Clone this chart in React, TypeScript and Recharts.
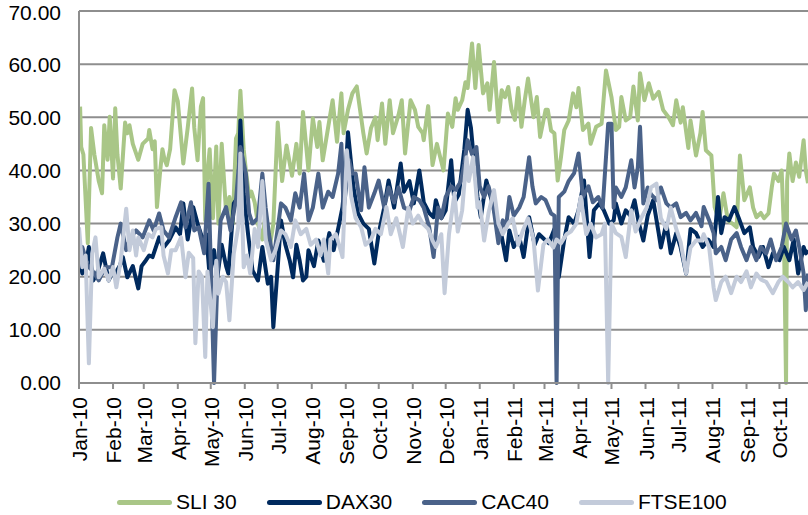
import { LineChart, Line, XAxis, YAxis, CartesianGrid } from 'recharts';

// [day since 1 Jan 2010, value]
const sli30: [number, number][] = [
  [1, 52], [2, 44.4], [4, 43], [8, 26.3], [11, 48], [14, 43], [18, 38], [21, 35.7], [23, 48.5], [26, 42],
  [28, 50.1], [31, 38.5], [33, 51.7], [35, 43], [38, 36.6], [42, 49], [44, 47], [46, 48.5], [49, 45], [54, 42],
  [58, 45], [63, 46], [64, 47.6], [67, 44], [69, 45.5], [71, 33.1], [74, 40], [76, 44], [78, 42], [80, 41],
  [83, 44], [87, 55.1], [90, 53], [95, 41.3], [99, 48], [103, 55.4], [105, 48], [108, 41.9], [111, 52], [113, 53.6],
  [115, 30.6], [116, 37], [119, 44], [122, 31], [125, 44.5], [127, 30], [130, 45], [134, 32], [137, 35], [140, 30],
  [143, 46], [145, 47], [147, 55], [150, 44], [152, 40], [155, 35], [157, 36], [160, 34], [163, 30], [167, 27],
  [170, 32], [174, 26], [177, 30], [181, 49], [185, 38], [189, 44.7], [194, 39], [198, 45], [201, 39.4], [204, 51],
  [209, 40], [213, 49.8], [217, 44.4], [219, 49.1], [222, 41.9], [227, 48.2], [231, 53.2], [235, 45.4], [239, 54.5], [241, 47],
  [245, 51.4], [249, 54.5], [253, 55.8], [256, 51.4], [259, 47], [262, 43.2], [266, 48], [270, 50], [272, 45.7], [276, 52.6],
  [279, 45], [283, 53.2], [286, 47], [291, 50.4], [294, 53.2], [297, 43.2], [302, 53.2], [306, 51.4], [309, 48.2], [313, 47],
  [314, 45.7], [318, 52.1], [322, 41], [326, 45], [329, 42.5], [332, 40], [336, 50.7], [340, 48.2], [343, 53.6], [345, 51.4],
  [349, 53.2], [352, 56.6], [354, 55.5], [358, 63.9], [361, 55.5], [364, 63.6], [368, 54.5], [372, 56.4], [374, 51.4], [378, 60.4],
  [382, 49.1], [385, 55.1], [388, 53.8], [391, 55.7], [394, 51.4], [397, 49.5], [400, 55.5], [403, 48.2], [406, 53.2], [409, 57.3],
  [414, 50], [417, 53.8], [420, 46.3], [425, 51.4], [427, 51.4], [430, 47.5], [433, 47], [436, 38.1], [439, 42.5], [442, 47.6],
  [446, 49.4], [450, 54.5], [453, 51.9], [455, 55.5], [459, 47.6], [464, 48.8], [466, 45], [471, 48.2], [476, 48.8], [480, 58.8],
  [485, 53.8], [489, 47.6], [492, 48.2], [494, 53.8], [498, 49.4], [502, 50], [505, 55.8], [509, 49.4], [511, 58.3], [515, 53.2],
  [519, 56.4], [523, 53.5], [528, 54.8], [532, 51.4], [537, 50], [541, 48.5], [544, 53.2], [548, 49], [550, 51.9], [555, 44.2],
  [557, 49.4], [562, 42.8], [566, 47], [568, 51], [571, 43.8], [576, 42.8], [579, 33.1], [583, 30.6], [587, 35.7], [591, 30.6],
  [595, 30], [599, 29.3], [602, 42.8], [606, 34.4], [611, 36.8], [614, 33], [617, 31.2], [621, 32], [624, 31], [628, 31.9],
  [631, 36.8], [633, 39.4], [637, 38], [640, 40], [642, 29.3], [644, 0], [645, 38], [647, 43.2], [650, 38], [653, 41.5],
  [656, 38.8], [660, 45.7], [662, 40], [664, 37.6],
];

const dax30: [number, number][] = [
  [1, 23], [3, 20.6], [6, 22], [9, 25.6], [13, 19.3], [17, 21], [22, 24.4], [27, 19.3], [31, 21], [33, 20.6],
  [37, 22], [40, 23.7], [44, 19.9], [49, 22], [54, 17.8], [57, 22], [61, 23.1], [64, 24], [67, 23.7], [73, 27.4],
  [77, 25.5], [82, 26.8], [88, 29.3], [92, 28], [95, 33.8], [99, 27], [104, 33.1], [108, 30], [113, 26.8], [116, 28],
  [119, 20], [123, 25], [126, 20], [130, 26], [134, 22], [136, 20.6], [141, 33.8], [145, 35], [147, 49.4], [150, 35.7],
  [154, 28], [158, 21.2], [163, 19.3], [167, 25.6], [172, 18.7], [175, 20], [177, 10.5], [181, 21.8], [184, 30.6], [188, 26],
  [192, 23], [195, 19.9], [198, 26], [201, 23], [204, 19.3], [207, 20], [209, 25], [214, 22], [218, 26.8], [223, 23],
  [228, 28.2], [232, 25], [237, 30], [240, 33.1], [243, 40], [245, 47.2], [250, 36.8], [254, 32], [259, 30], [264, 29],
  [269, 22.5], [273, 28.2], [278, 33], [282, 38.1], [287, 33], [293, 41.3], [296, 36], [301, 38], [305, 33.8], [310, 40],
  [314, 34], [319, 32], [323, 31.2], [325, 34.4], [330, 31], [334, 32.5], [339, 41.9], [342, 34], [346, 35.5], [351, 44],
  [354, 51.4], [357, 48], [360, 41.3], [363, 35], [366, 31.2], [371, 38.1], [375, 35], [380, 31], [384, 28.7], [389, 23.1],
  [392, 28.7], [396, 25.6], [401, 27.5], [405, 23.7], [410, 31.2], [415, 26], [419, 28], [424, 27], [428, 26.3], [433, 29],
  [437, 19.9], [442, 27], [446, 31.2], [451, 30], [455, 32.5], [460, 38.1], [465, 23.7], [469, 32.5], [474, 33.8], [478, 32.5],
  [483, 30], [487, 30.6], [489, 33.8], [494, 30], [498, 32.5], [502, 31.5], [506, 34.4], [510, 30], [514, 26.8], [518, 31.5],
  [523, 34.4], [528, 28.2], [530, 25.5], [535, 30], [539, 24.4], [544, 28.2], [548, 25.5], [553, 20.6], [557, 29], [562, 28.2],
  [568, 25.6], [573, 27], [578, 25.6], [580, 30], [582, 35], [585, 28.2], [588, 31.2], [592, 30.6], [597, 33.1], [601, 31],
  [606, 28.2], [611, 29.3], [614, 25.6], [619, 23.7], [623, 25.6], [628, 21.8], [632, 24.4], [638, 23.1], [642, 25.6], [647, 23.1],
  [651, 27], [655, 20.6], [660, 25.6], [662, 24.4], [664, 25],
];

const cac40: [number, number][] = [
  [1, 22], [3, 25.6], [8, 22], [12, 21.2], [18, 19.3], [24, 21.8], [30, 21.8], [35, 27.4], [38, 30], [43, 25],
  [47, 27.4], [52, 28.7], [58, 27.4], [64, 30.6], [68, 28.7], [73, 31.9], [77, 28.7], [82, 27.4], [88, 31.2], [93, 34],
  [97, 29.3], [102, 34], [105, 28.7], [109, 29.3], [114, 24.4], [118, 37.5], [121, 15], [123, 0], [126, 19.3], [129, 30.6],
  [134, 33.1], [138, 28.7], [143, 34.4], [147, 44.4], [152, 39.4], [155, 31.9], [158, 30], [163, 31], [167, 39.4], [170, 33],
  [173, 28], [177, 23.1], [181, 29], [184, 33.8], [188, 33], [193, 30.6], [197, 35.7], [201, 33], [205, 39.4], [209, 30.6],
  [213, 33], [218, 39.4], [222, 33], [227, 36], [231, 35], [236, 39.4], [239, 45], [241, 32.5], [246, 41.9], [249, 39.4],
  [252, 39.4], [257, 32.5], [260, 40.6], [264, 33], [269, 35.7], [273, 38.1], [278, 33], [282, 36.8], [287, 34], [291, 36.8],
  [296, 33], [301, 32.5], [305, 35], [310, 34.4], [314, 33], [319, 29.3], [323, 23.7], [327, 33], [330, 31], [334, 35],
  [339, 37], [343, 36.3], [348, 38], [351, 41.3], [354, 45.7], [358, 43], [362, 44.4], [365, 37], [369, 35], [373, 37],
  [377, 33.8], [382, 26.3], [386, 30.6], [389, 29.3], [392, 35], [396, 31.5], [401, 33], [405, 35], [410, 42.5], [413, 37],
  [416, 33.8], [421, 35], [425, 34.4], [430, 31.9], [433, 31.5], [435, 0], [437, 35], [442, 36], [446, 38], [451, 39.5],
  [455, 43.2], [459, 35], [464, 37], [468, 34], [473, 35], [477, 33], [482, 48.8], [485, 48.8], [487, 33], [489, 36.8],
  [494, 35], [498, 36.8], [503, 41.9], [506, 36.8], [509, 40.6], [511, 48.2], [514, 33.8], [518, 36.8], [521, 35.5], [526, 34.4],
  [530, 36.8], [535, 33.8], [539, 33], [544, 33.8], [548, 31.2], [553, 32], [557, 30.6], [562, 32], [567, 29.5], [569, 33.1],
  [574, 30.6], [578, 28.2], [580, 24.4], [585, 25.6], [589, 23.1], [594, 27], [599, 28.2], [603, 25.6], [608, 23.1], [612, 25.6],
  [617, 23.1], [621, 25.6], [626, 24.4], [630, 27], [635, 23.1], [640, 25.6], [644, 30], [649, 27], [653, 28.7], [656, 25.6],
  [660, 20.6], [662, 13.7], [664, 20.6],
];

const ftse100: [number, number][] = [
  [0, 29.3], [3, 21.8], [6, 24], [9, 3.7], [12, 24.4], [15, 27.4], [18, 19.9], [23, 21.5], [27, 19.3], [31, 21.8],
  [34, 18], [38, 23], [43, 32.8], [46, 25], [49, 28.7], [52, 24], [54, 27.4], [59, 25], [63, 28], [67, 27.4],
  [70, 29], [75, 29.3], [77, 24], [81, 20.6], [84, 25], [88, 25], [93, 27.4], [97, 19.9], [100, 24.5], [104, 23.5],
  [106, 7.5], [109, 21], [112, 20], [115, 4.9], [117, 21], [122, 10.5], [125, 23], [127, 16.8], [131, 20], [134, 19],
  [137, 11.8], [141, 24.4], [145, 29.3], [147, 43.2], [150, 21.8], [153, 24], [156, 20.6], [160, 29], [163, 25.6], [167, 38],
  [170, 27], [175, 23.1], [179, 25], [184, 28.7], [188, 28], [193, 25.6], [197, 30.6], [202, 28], [207, 29], [211, 26],
  [216, 27], [220, 24], [223, 27], [227, 20.6], [229, 27], [234, 28], [239, 24.5], [240, 23.7], [244, 43.8], [248, 35],
  [252, 31], [257, 29.3], [261, 26], [266, 27], [270, 29], [275, 28], [280, 33.1], [284, 28], [289, 31], [295, 25.6],
  [300, 33], [304, 30], [309, 31.5], [313, 30], [318, 29], [322, 26.8], [325, 25.6], [330, 28], [333, 16.9], [337, 28],
  [342, 35.7], [345, 28.5], [349, 32.5], [353, 42.5], [355, 38], [359, 42.5], [363, 33], [365, 34], [369, 26.8], [373, 32],
  [378, 36.3], [382, 30], [386, 28], [391, 30], [395, 31], [400, 26], [404, 28.5], [409, 31], [414, 27], [418, 17.4],
  [423, 26], [427, 27], [432, 25.5], [435, 27], [439, 26.3], [444, 28], [448, 28.5], [453, 30], [457, 35], [462, 28],
  [466, 30], [471, 27.4], [476, 28], [479, 30], [482, 0], [485, 30], [489, 28.2], [494, 27.5], [498, 23.7], [503, 32.5],
  [507, 28.5], [512, 31], [517, 33], [521, 36.8], [526, 37.5], [530, 31], [535, 29], [539, 33], [544, 29], [548, 26.5],
  [553, 20.6], [557, 25.5], [562, 26.8], [567, 26.8], [569, 28], [574, 25.5], [578, 18], [580, 15.6], [585, 19], [589, 20],
  [594, 16.9], [599, 20], [603, 19], [608, 21], [612, 18], [617, 20.6], [621, 19.5], [626, 19], [632, 16.9], [637, 19],
  [641, 20], [646, 19], [650, 18], [655, 19], [660, 17.5], [664, 19],
];

const monthLabels = [
  'Jan-10', 'Feb-10', 'Mar-10', 'Apr-10', 'May-10', 'Jun-10', 'Jul-10', 'Aug-10', 'Sep-10', 'Oct-10', 'Nov-10',
  'Dec-10', 'Jan-11', 'Feb-11', 'Mar-11', 'Apr-11', 'May-11', 'Jun-11', 'Jul-11', 'Aug-11', 'Sep-11', 'Oct-11',
];
const yTicks = [0, 10, 20, 30, 40, 50, 60, 70];

const series = [
  { name: 'SLI 30', color: '#a9c687', points: sli30 },
  { name: 'DAX30', color: '#002a5e', points: dax30 },
  { name: 'CAC40', color: '#4a6289', points: cac40 },
  { name: 'FTSE100', color: '#c3cbda', points: ftse100 },
];

const DAY = 86400000;
const start = Date.UTC(2010, 0, 1);
const monthTicks = monthLabels.map((_, i) => Math.round((Date.UTC(2010, i, 1) - start) / DAY));
const labelByDay: Record<number, string> = {};
monthTicks.forEach((d, i) => (labelByDay[d] = monthLabels[i]));

const font = '"Liberation Sans", Arial, sans-serif';

function MonthTick({ x, y, payload }: any) {
  return (
    <text
      transform={`translate(${x + 8},${y + 6}) rotate(-90)`}
      textAnchor="end"
      fontSize={21}
      fontFamily={font}
      fill="#000"
    >
      {labelByDay[payload.value]}
    </text>
  );
}

export default function App() {
  return (
    <div style={{ position: 'absolute', left: 0, top: 0, width: 808, height: 515, background: '#fff' }}>
      <LineChart width={808} height={480} margin={{ top: 11, right: 0, bottom: 0, left: 0 }}>
        <CartesianGrid vertical={false} stroke="#8e8e8e" strokeWidth={2} />
        <XAxis
          type="number"
          dataKey="d"
          domain={[0, 664]}
          ticks={monthTicks}
          interval={0}
          allowDataOverflow
          height={97}
          tick={<MonthTick />}
          tickSize={6}
          axisLine={{ stroke: '#8e8e8e', strokeWidth: 2 }}
          tickLine={{ stroke: '#8e8e8e', strokeWidth: 2 }}
        />
        <YAxis
          type="number"
          domain={[0, 70]}
          ticks={yTicks}
          width={79}
          tickFormatter={(v: number) => v.toFixed(2)}
          tick={{ fontSize: 21, fontFamily: font, fill: '#000' }}
          tickSize={0}
          tickMargin={18}
          axisLine={{ stroke: '#8e8e8e', strokeWidth: 2 }}
          tickLine={false}
        />
        {series.map((s) => (
          <Line
            key={s.name}
            data={s.points.map(([d, v]) => ({ d, v }))}
            dataKey="v"
            name={s.name}
            type="linear"
            stroke={s.color}
            strokeWidth={4}
            strokeLinejoin="round"
            dot={false}
            activeDot={false}
            isAnimationActive={false}
          />
        ))}
      </LineChart>
      <div
        style={{
          position: 'absolute',
          top: 490,
          left: 117,
          display: 'flex',
          alignItems: 'center',
          gap: 30,
          fontFamily: font,
          fontSize: 21,
          color: '#000',
        }}
      >
        {series.map((s) => (
          <div key={s.name} style={{ display: 'flex', alignItems: 'center' }}>
            <span style={{ display: 'inline-block', width: 55, height: 5, borderRadius: 3, background: s.color, marginRight: 4 }} />
            <span>{s.name}</span>
          </div>
        ))}
      </div>
    </div>
  );
}
